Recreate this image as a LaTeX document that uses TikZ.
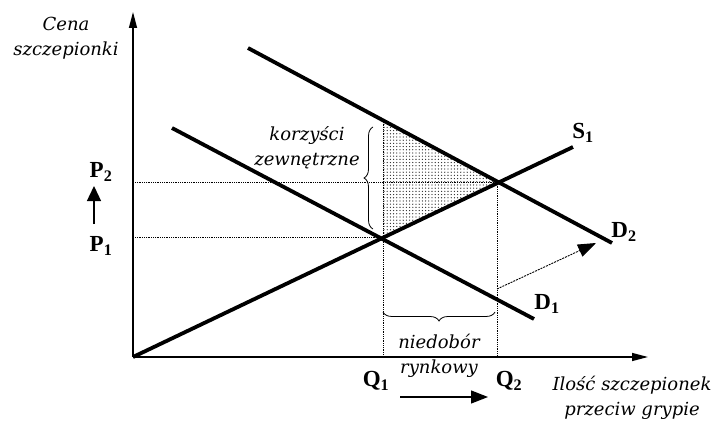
\documentclass[tikz,border=0pt]{standalone}
\usepackage{fontspec}
\setmainfont{Liberation Serif}
\newfontfamily\labfont{DejaVu Serif}
\usetikzlibrary{arrows.meta,patterns.meta,decorations.pathreplacing}
\begin{document}
\begin{tikzpicture}[x=1pt,y=-1pt,
  curve/.style={line width=3.8pt},
  axisline/.style={line width=1.4pt,-{Triangle[length=16pt,width=8pt]}},
  guide/.style={densely dotted,line width=0.8pt},
  lab/.style={font=\labfont\fontsize{18}{25}\selectfont\itshape,align=center,text=black},
  big/.style={font=\fontsize{23}{23}\selectfont\bfseries},
  shiftarrow/.style={line width=0.9pt,-{Triangle[length=18pt,width=13pt]}},
  brc/.style={decorate,line width=0.8pt},
]
\useasboundingbox (0,0) rectangle (715,425);
% key points
\coordinate (O) at (133,357);
\coordinate (ytop) at (133,12);
\coordinate (xend) at (648,357);
\coordinate (Sa) at (133,357);
\coordinate (Sb) at (573,147);
\coordinate (D1a) at (172,128);
\coordinate (D1b) at (534,319);
\coordinate (D2a) at (248,48);
\coordinate (D2b) at (612,243);
\coordinate (E1) at (383,237);
\coordinate (E2) at (497,182);
\coordinate (T) at (383,120);
\coordinate (P1y) at (135,237);
\coordinate (P2y) at (135,182);
\coordinate (Q1x) at (383,357);
\coordinate (Q2x) at (497,357);
% shaded triangle
\fill[pattern={Dots[distance=3.2pt,radius=0.65pt]},pattern color=black!85] (T) -- (E2) -- (E1) -- cycle;
% guides
\draw[guide] (P2y) -- (E2);
\draw[guide] (P1y) -- (E1);
\draw[guide] (T) -- (Q1x);
\draw[guide] (E2) -- (Q2x);
% axes
\draw[axisline] (O) -- (ytop);
\draw[axisline] (O) -- (xend);
% curves
\draw[curve] (Sa) -- (Sb);
\draw[curve] (D1a) -- (D1b);
\draw[curve] (D2a) -- (D2b);
% braces
\draw[brc,decoration={brace,amplitude=9pt}] (373,229) -- (373,127);
\draw[brc,decoration={brace,amplitude=9pt}] (495,312) -- (383,312);
% shift arrow
\coordinate (sh1) at (497,289);
\coordinate (sh2) at (596,243);
\draw[shiftarrow,dash pattern=on 2pt off 1pt] (sh1) -- (sh2);
% labels
\node[lab] (cena) at (66,38) {Cena\\szczepionki};
\node[lab] (korz) at (307,148) {korzyści\\zewnętrzne};
\node[lab] (nied) at (439,356) {niedobór\\rynkowy};
\node[lab] (ilosc) at (632,398) {Ilość szczepionek\\przeciw grypie};
\node[big] (S1) at (583,133) {S\textsubscript{1}};
\node[big] (D2) at (624,232) {D\textsubscript{2}};
\node[big] (D1) at (547,304) {D\textsubscript{1}};
\node[big] (P2) at (101,172) {P\textsubscript{2}};
\node[big] (P1) at (101,246) {P\textsubscript{1}};
\node[big] (Q1) at (376,381) {Q\textsubscript{1}};
\node[big] (Q2) at (509,381) {Q\textsubscript{2}};
% price and quantity arrows
\coordinate (pa) at (94,224);
\coordinate (pb) at (94,186);
\draw[line width=1.3pt,-{Triangle[length=15pt,width=14pt]}] (pa) -- (pb);
\coordinate (qa) at (400,397);
\coordinate (qb) at (488,397);
\draw[line width=1.3pt,-{Triangle[length=17pt,width=13pt]}] (qa) -- (qb);
\end{tikzpicture}
\end{document}
